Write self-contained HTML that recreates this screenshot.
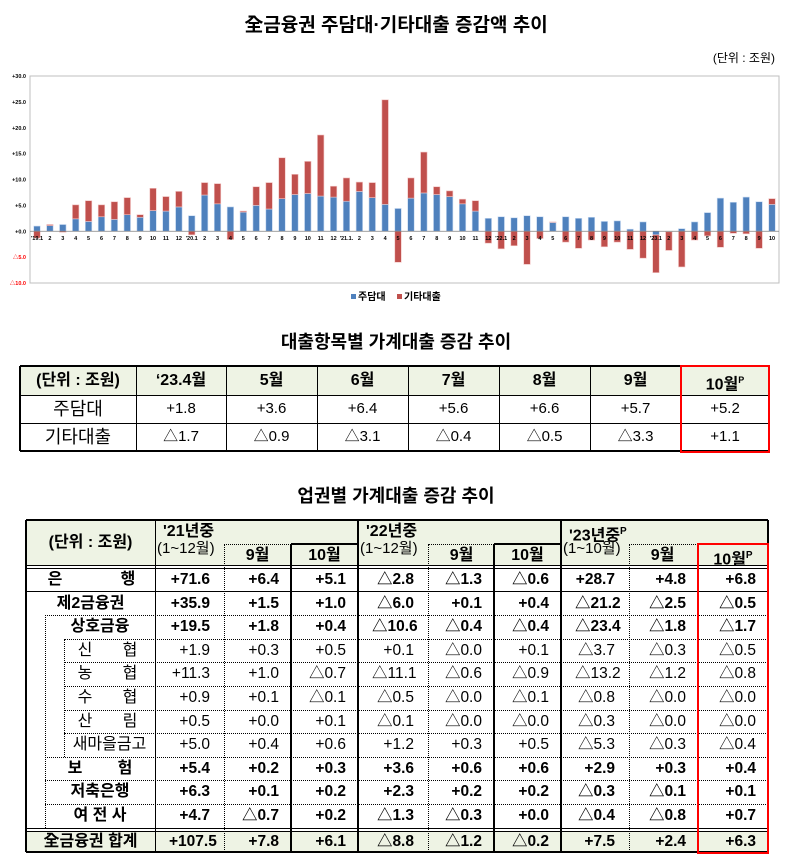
<!DOCTYPE html>
<html><head><meta charset="utf-8">
<style>
body{margin:0;width:792px;height:859px;background:#fff;position:relative;overflow:hidden;font-family:"Liberation Sans","Noto Sans CJK KR",sans-serif;color:#000}
.abs{position:absolute}
.t{position:absolute;white-space:nowrap}
.ln{position:absolute}
</style></head><body>
<div class="t" style="left:0;width:792px;text-align:center;top:10px;font-size:19px;font-weight:bold">全금융권 주담대·기타대출 증감액 추이</div>
<div class="t" style="right:17px;top:49px;font-size:12px">(단위 : 조원)</div>
<svg class="abs" style="left:0;top:0" width="792" height="310" id="chart"></svg>
<div class="t" style="left:0;width:792px;text-align:center;top:328px;font-size:18px;font-weight:bold">대출항목별 가계대출 증감 추이</div>
<div id="t1"></div>
<div class="t" style="left:0;width:792px;text-align:center;top:482px;font-size:18px;font-weight:bold">업권별 가계대출 증감 추이</div>
<div id="t2"></div>
<script>
const categories=["'19.1","2","3","4","5","6","7","8","9","10","11","12","'20.1","2","3","4","5","6","7","8","9","10","11","12","'21.1.","2","3","4","5","6","7","8","9","10","11","12","'22.1","2","3","4","5","6","7","8","9","10","11","12","'23.1","2","3","4","5","6","7","8","9","10"];
const mortgage=[1.0,1.1,1.3,2.4,1.9,2.8,2.3,3.2,2.7,4.0,3.9,4.7,3.0,7.0,5.3,4.7,3.7,5.0,4.3,6.3,7.1,7.3,6.8,6.6,5.8,7.7,6.5,5.2,4.4,6.4,7.4,7.1,6.7,5.3,3.9,2.5,2.8,2.6,3.0,2.8,1.7,2.8,2.5,2.7,1.9,2.0,0.4,1.8,-0.7,-0.1,0.5,1.8,3.6,6.4,5.6,6.6,5.7,5.2];
const otherLoans=[-1.3,0.2,-0.2,2.7,4.0,2.3,3.4,3.3,0.5,4.3,2.8,3.0,-0.7,2.4,3.9,-1.6,0.2,3.6,5.1,7.9,3.9,6.2,11.8,2.1,4.5,1.8,2.9,20.2,-6.0,3.9,7.9,1.5,1.1,0.9,2.0,-2.3,-3.4,-2.8,-6.4,-1.4,0.1,-2.1,-3.3,-1.7,-3.0,-2.1,-3.5,-5.2,-7.3,-3.6,-6.9,-1.7,-0.9,-3.1,-0.4,-0.5,-3.3,1.1];
const yTicks=[30,25,20,15,10,5,0,-5,-10];
const yTickLabels=["+30.0","+25.0","+20.0","+15.0","+10.0","+5.0","+0.0","△5.0","△10.0"];
const NS="http://www.w3.org/2000/svg";
const svg=document.getElementById('chart');
const X0=30,X1=779,Y0=76,Y1=283,vmax=30,vmin=-10;
function y(v){return Y0+(vmax-v)/(vmax-vmin)*(Y1-Y0);}
function x(i){return 37+i*(772-37)/(categories.length-1);}
function mk(tag,attrs){const e=document.createElementNS(NS,tag);for(const k in attrs)e.setAttribute(k,attrs[k]);svg.appendChild(e);return e;}
const frame=mk('rect',{x:X0,y:Y0,width:X1-X0,height:Y1-Y0,fill:'none',stroke:'#bfbfbf','stroke-width':1});


yTicks.forEach((v,i)=>{const t=mk('text',{x:26,y:y(v)+2,'text-anchor':'end','font-size':5.5,'font-weight':'bold',fill:v<0?'#ff0000':'#000'});t.textContent=yTickLabels[i];

});
const bw=6.5;
categories.forEach((c,i)=>{
 const m=mortgage[i],o=otherLoans[i],cx=x(i);
 let b0=0,b1=m,r0,r1;
 if(o>=0){r0=m>0?m:0;r1=r0+o;}else{r0=m<0?m:0;r1=r0+o;}
 const b=mk('rect',{x:cx-bw/2,y:Math.min(y(b0),y(b1)),width:bw,height:Math.abs(y(b1)-y(b0)),fill:'#4f81bd',stroke:'#c6d9f1','stroke-width':0.6});
 
 
 const r=mk('rect',{x:cx-bw/2,y:Math.min(y(r0),y(r1)),width:bw,height:Math.abs(y(r1)-y(r0)),fill:'#c0504d',stroke:'#f2c4c3','stroke-width':0.6});
 
 
 const t=mk('text',{x:cx,y:240,'text-anchor':'middle','font-size':5.5,'font-weight':'bold',fill:'#000'});t.textContent=c;
 
 
});
const zl=mk('line',{x1:X0,x2:X1,y1:y(0),y2:y(0),stroke:'#808080','stroke-width':0.8});


const lg1=mk('rect',{x:351,y:294,width:5,height:5,fill:'#4f81bd'});
const lt1=mk('text',{x:358,y:300,'font-size':10,'font-weight':'bold'});lt1.textContent='주담대';
const lg2=mk('rect',{x:397,y:294,width:5,height:5,fill:'#c0504d'});
const lt2=mk('text',{x:404,y:300,'font-size':10,'font-weight':'bold'});lt2.textContent='기타대출';

function line(par,x1,y1,x2,y2,w,style,color){const d=document.createElement('div');d.className='ln';
 if(y1===y2){d.style.cssText=`left:${x1}px;top:${y1-w/2}px;width:${x2-x1}px;height:0;border-top:${w}px ${style} ${color}`;}
 else{d.style.cssText=`left:${x1-w/2}px;top:${y1}px;height:${y2-y1}px;width:0;border-left:${w}px ${style} ${color}`;}
 
 
 document.body.appendChild(d);}
function txt(s,l,t,w,h,align,size,bold,name,pad){const d=document.createElement('div');d.className='t';
 d.style.cssText=`left:${l}px;top:${t}px;width:${w}px;height:${h}px;line-height:${h}px;text-align:${align};font-size:${size}px;font-weight:${bold?'bold':'normal'};box-sizing:border-box;padding:0 ${pad||0}px`;
 d.textContent=s;
 
 
 document.body.appendChild(d);return d;}
function bg(l,t,w,h,c){const d=document.createElement('div');d.className='abs';d.style.cssText=`left:${l}px;top:${t}px;width:${w}px;height:${h}px;background:${c}`;
 
 
 document.body.appendChild(d);}

// Table 1
const t1cols=[20,136,226,317,408,499,590,681,769];
const t1rows=[366,395,423,451];
const t1head=["(단위 : 조원)","‘23.4월","5월","6월","7월","8월","9월","10월"];
const t1mort=["+1.8","+3.6","+6.4","+5.6","+6.6","+5.7","+5.2"];
const t1other=["△1.7","△0.9","△3.1","△0.4","△0.5","△3.3","+1.1"];
bg(20,366,749,29,'#eef3e4');
t1head.forEach((h,i)=>{const d=txt(h,t1cols[i],366,t1cols[i+1]-t1cols[i],29,'center',16,true,'table1-header');if(i===7){const s=document.createElement('sup');s.textContent='P';s.style.fontSize='9px';d.appendChild(s);}});
txt('주담대',20,395,116,28,'center',18,false,'row-label-mortgage');
txt('기타대출',20,423,116,28,'center',18,false,'row-label-other');
t1mort.forEach((v,i)=>txt(v,t1cols[i+1],395,t1cols[i+2]-t1cols[i+1],28,'center',15,false,'mortgage-value'));
t1other.forEach((v,i)=>txt(v,t1cols[i+1],423,t1cols[i+2]-t1cols[i+1],28,'center',15,false,'other-value'));
for(let i=1;i<8;i++)line(null,t1cols[i],366,t1cols[i],451,1,'solid','#000');
line(null,20,395,769,395,1,'solid','#000');line(null,20,423,769,423,1,'solid','#000');
line(null,20,366,769,366,2.5,'solid','#000');line(null,20,451,769,451,2.5,'solid','#000');
line(null,20,366,20,451,2.5,'solid','#000');line(null,769,366,769,451,2.5,'solid','#000');
{const d=document.createElement('div');d.className='abs';d.style.cssText='left:680px;top:365px;width:86px;height:84px;border:2px solid #ff0000';document.body.appendChild(d);}

// Table 2
const C=[26,155,224,291,358,428,494,561,629,698,768];
const rowLabels=["은행","제2금융권","상호금융","신협","농협","수협","산림","새마을금고","보험","저축은행","여전사"];
const rowBold=[1,1,1,0,0,0,0,0,1,1,1];
const rowIndent=[0,0,45,64,64,64,64,64,45,45,45];
const t2values=[
["+71.6","+6.4","+5.1","△2.8","△1.3","△0.6","+28.7","+4.8","+6.8"],
["+35.9","+1.5","+1.0","△6.0","+0.1","+0.4","△21.2","△2.5","△0.5"],
["+19.5","+1.8","+0.4","△10.6","△0.4","△0.4","△23.4","△1.8","△1.7"],
["+1.9","+0.3","+0.5","+0.1","△0.0","+0.1","△3.7","△0.3","△0.5"],
["+11.3","+1.0","△0.7","△11.1","△0.6","△0.9","△13.2","△1.2","△0.8"],
["+0.9","+0.1","△0.1","△0.5","△0.0","△0.1","△0.8","△0.0","△0.0"],
["+0.5","+0.0","+0.1","△0.1","△0.0","△0.0","△0.3","△0.0","△0.0"],
["+5.0","+0.4","+0.6","+1.2","+0.3","+0.5","△5.3","△0.3","△0.4"],
["+5.4","+0.2","+0.3","+3.6","+0.6","+0.6","+2.9","+0.3","+0.4"],
["+6.3","+0.1","+0.2","+2.3","+0.2","+0.2","△0.3","△0.1","+0.1"],
["+4.7","△0.7","+0.2","△1.3","△0.3","+0.0","△0.4","△0.8","+0.7"]];
const totalValues=["+107.5","+7.8","+6.1","△8.8","△1.2","△0.2","+7.5","+2.4","+6.3"];
const RT=568,RH=23.6;
bg(26,520,742,45,'#eef3e4');bg(26,831,742,21,'#eef3e4');
txt('(단위 : 조원)',26,520,129,45,'center',16,true,'table2-unit-header');
[["'21년중","(1~12월)",155],["'22년중","(1~12월)",358],["'23년중","(1~10월)",561]].forEach(a=>{
 const d=txt(a[0],a[2]+8,523,80,18,'left',16,true,'year-header');
 if(a[2]===561){const s=document.createElement('sup');s.textContent='P';s.style.fontSize='10px';d.appendChild(s);}
 txt(a[1],a[2]+2,540,80,18,'left',15,false,'year-range');});
[[224,'9월'],[291,'10월'],[428,'9월'],[494,'10월'],[629,'9월'],[698,'10월P']].forEach(a=>{
 const w=a[0]===291||a[0]===494?67:(a[0]===698?70:67);
 const d=txt(a[1].replace('P',''),a[0],545,w,21,'center',16,true,'month-header');
 if(a[1].endsWith('P')){const s=document.createElement('sup');s.textContent='P';s.style.fontSize='10px';d.appendChild(s);}});
rowLabels.forEach((lab,r)=>{
 const top=RT+r*RH, l=rowIndent[r]||26;
 const spaced={"은행":[55,128],"신협":[85,130],"농협":[85,130],"수협":[85,130],"산림":[85,130],"보험":[75,125]};
 if(spaced[lab]){const ch=lab.split('');ch.forEach((c,k)=>txt(c,spaced[lab][k]-12,top,24,RH,'center',16,rowBold[r],'row-label'));}
 else if(lab==='여전사'){txt('여 전 사',l,top,155-l,RH,'center',16,true,'row-label');}
 else txt(lab,l,top,155-l,RH,'center',16,rowBold[r],'row-label');
 t2values[r].forEach((v,c)=>txt(v,C[c+1],top,C[c+2]-C[c+1],RH,'right',15.5,rowBold[r],'cell-value',c%3===0?14:12));
});
txt('全금융권 합계',26,831,129,21,'center',16,true,'row-label-total');
totalValues.forEach((v,c)=>txt(v,C[c+1],831,C[c+2]-C[c+1],21,'right',15.5,true,'total-value',c%3===0?14:12));
// lines
const B='#000';
line(0,155,520,155,852,1,'solid',B);
[224,428,629].forEach(xx=>line(0,xx,544,xx,852,1,'dotted',B));
[291,494].forEach(xx=>line(0,xx,544,xx,852,2.5,'solid',B));
[358,561].forEach(xx=>line(0,xx,520,xx,852,2.5,'solid',B));
[[224,291],[428,494],[629,698]].forEach(a=>line(0,a[0],544,a[1],544,1,'dotted',B));
[[291,358],[494,561]].forEach(a=>line(0,a[0],544,a[1],544,2.5,'solid',B));
line(0,26,565,768,565,1,'solid',B);line(0,26,568,768,568,1,'solid',B);
line(0,26,828,768,828,1,'solid',B);line(0,26,831,768,831,1,'solid',B);
line(0,26,RT+RH,768,RT+RH,1,'solid',B);
for(let r=2;r<11;r++){const yy=Math.round(RT+r*RH);const l=(r>=3&&r<=7)?64:45;line(0,l,yy,768,yy,1,'dotted',B);}
line(0,45,RT+2*RH,45,828,1,'dotted',B);
line(0,64,RT+3*RH,64,RT+8*RH,1,'dotted',B);
line(0,26,520,768,520,2.5,'solid',B);line(0,26,852,768,852,2.5,'solid',B);
line(0,26,520,26,852,2.5,'solid',B);line(0,768,520,768,852,2.5,'solid',B);
{const d=document.createElement('div');d.className='abs';d.style.cssText='left:697px;top:543px;width:68px;height:307px;border:2px solid #ff0000';document.body.appendChild(d);}
</script>
</body></html>
